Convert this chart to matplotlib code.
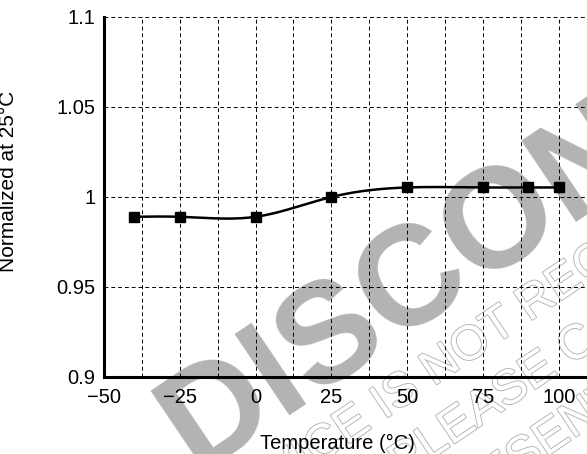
import numpy as np
import matplotlib
matplotlib.use("Agg")
import matplotlib.pyplot as plt
import matplotlib.patheffects as pe
from matplotlib.ticker import MultipleLocator

plt.rcParams['font.family'] = ['Liberation Sans', 'DejaVu Sans']

# data
temp = [-40, -25, 0, 25, 50, 75, 90, 100]
norm = [0.989, 0.989, 0.989, 1.000, 1.0053, 1.0053, 1.0053, 1.0053]
xticks = [-50, -25, 0, 25, 50, 75, 100, 125]
xticklabels = ["\u221250", "\u221225", "0", "25", "50", "75", "100", "125"]
yticks = [0.9, 0.95, 1.0, 1.05, 1.1]
yticklabels = ["0.9", "0.95", "1", "1.05", "1.1"]


def natural_spline(x, y, xs):
    x = np.asarray(x, float)
    y = np.asarray(y, float)
    n = len(x)
    h = np.diff(x)
    A = np.zeros((n, n))
    b = np.zeros(n)
    A[0, 0] = 1
    A[-1, -1] = 1
    for i in range(1, n - 1):
        A[i, i - 1] = h[i - 1]
        A[i, i] = 2 * (h[i - 1] + h[i])
        A[i, i + 1] = h[i]
        b[i] = 6 * ((y[i + 1] - y[i]) / h[i] - (y[i] - y[i - 1]) / h[i - 1])
    M = np.linalg.solve(A, b)
    idx = np.clip(np.searchsorted(x, xs) - 1, 0, n - 2)
    x0, x1 = x[idx], x[idx + 1]
    hh = x1 - x0
    return (M[idx] * (x1 - xs) ** 3 / (6 * hh) + M[idx + 1] * (xs - x0) ** 3 / (6 * hh)
            + (y[idx] / hh - M[idx] * hh / 6) * (x1 - xs)
            + (y[idx + 1] / hh - M[idx + 1] * hh / 6) * (xs - x0))


W, H = 587, 454
fig = plt.figure(figsize=(W / 100, H / 100), dpi=100)
fig.patch.set_facecolor('white')
ax = fig.add_axes([104 / W, 77 / H, 530.6 / W, 360 / H])
ax.patch.set_visible(False)

# watermark (behind the axes)
def px(x, y):
    return x / W, 1 - y / H

wm_color = '#b3b3b3'
fig.text(*px(196, 472), "DISCONTINUED", fontsize=102, fontweight='bold',
         color=wm_color, rotation=34, rotation_mode='anchor',
         ha='left', va='baseline', zorder=-1)
small = [((120, 598), "THIS DEVICE IS NOT RECOMMENDED FOR NEW DESIGNS"),
         ((402, 479), "PLEASE CONTACT YOUR LOCAL"),
         ((380, 569), "REPRESENTATIVE")]
for (x, y), s in small:
    fig.text(*px(x, y), s, fontsize=35, color='white', rotation=34,
             rotation_mode='anchor', ha='left', va='baseline', zorder=-1,
             path_effects=[pe.withStroke(linewidth=1.3, foreground=wm_color)])

xs = np.linspace(temp[0], temp[-1], 300)
ax.plot(xs, natural_spline(temp, norm, xs), color='black', lw=1.8, zorder=3)
ax.plot(temp, norm, 's', color='black', ms=7.5, zorder=4)

ax.set_xlim(-50, 125)
ax.set_ylim(0.9, 1.1)
ax.set_xticks(xticks)
ax.set_xticklabels(xticklabels)
ax.set_yticks(yticks)
ax.set_yticklabels(yticklabels)
ax.xaxis.set_minor_locator(MultipleLocator(12.5))
ax.grid(True, which='both', color='black', lw=0.7, linestyle=(0, (4, 3)))
ax.tick_params(which='both', length=0, labelsize=14.5)
ax.tick_params(axis='x', pad=8)
ax.tick_params(axis='y', pad=6)

for s in ['top', 'right']:
    ax.spines[s].set_visible(False)
for s in ['left', 'bottom']:
    ax.spines[s].set_linewidth(2.2)

ax.set_xlabel("Temperature (\u00b0C)", fontsize=14.5)
ax.xaxis.set_label_coords((337.5 - 104) / 530.6, -57 / 360)
ax.set_ylabel("Normalized at 25\u00b0C", fontsize=15)
ax.yaxis.set_label_coords((17.5 - 104) / 530.6, (377 - 181) / 360)

fig.savefig("out.png", dpi=100)
